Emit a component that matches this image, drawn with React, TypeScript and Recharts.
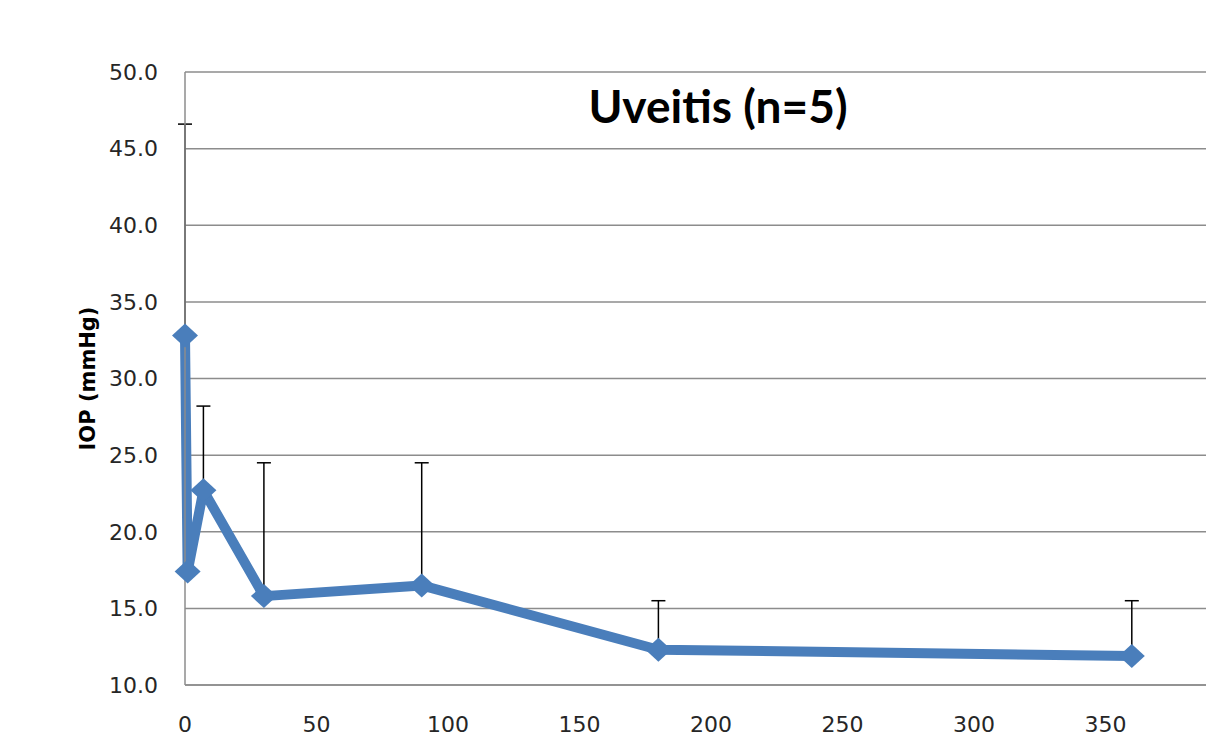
import React from 'react';
import { LineChart, Line, XAxis, YAxis, CartesianGrid, ErrorBar } from 'recharts';

// follow-up time (days) and mean IOP with upper SD
const days = [0, 1, 7, 30, 90, 180, 360];
const iop = [32.8, 17.4, 22.7, 15.8, 16.5, 12.3, 11.9];
const sdUp = [13.8, 0, 5.5, 8.7, 8.0, 3.2, 3.6];

const xTicks = [0, 50, 100, 150, 200, 250, 300, 350];
const yTicks = [10, 15, 20, 25, 30, 35, 40, 45, 50];

const data = days.map((d, i) => ({ day: d, iop: iop[i], err: [0, sdUp[i]] }));

const BLUE = '#4a7ebb';
const GRID = '#8c8c8c';
const tickFont = { fontFamily: 'DejaVu Sans', fontSize: 22, fill: '#262626' };

const Diamond = (props: any) => {
  const { cx, cy, index } = props;
  if (cx == null || cy == null) return <g key={index} />;
  return (
    <polygon
      key={index}
      points={`${cx},${cy - 12} ${cx + 13},${cy} ${cx},${cy + 12} ${cx - 13},${cy}`}
      fill={BLUE}
    />
  );
};

export default function App() {
  return (
    <div
      style={{
        position: 'fixed',
        left: 0,
        top: 0,
        width: 1206,
        height: 754,
        overflow: 'hidden',
        background: '#fff',
      }}
    >
      <LineChart width={1300} height={754} data={data} margin={{ top: 72, right: 63, left: 0, bottom: 0 }}>
        <CartesianGrid vertical={false} stroke={GRID} strokeWidth={1.5} />
        <XAxis
          dataKey="day"
          type="number"
          domain={[0, 400]}
          ticks={xTicks}
          height={69}
          tickLine={false}
          tickMargin={25}
          axisLine={{ stroke: GRID, strokeWidth: 1.5 }}
          tick={tickFont}
        />
        <YAxis
          type="number"
          domain={[10, 50]}
          ticks={yTicks}
          width={185}
          tickLine={false}
          tickMargin={21}
          tickFormatter={(v: number) => v.toFixed(1)}
          axisLine={{ stroke: GRID, strokeWidth: 1.5 }}
          tick={tickFont}
          label={{
            value: 'IOP (mmHg)',
            angle: -90,
            position: 'center',
            dx: -5,
            style: { fontFamily: 'DejaVu Sans', fontWeight: 'bold', fontSize: 21, fill: '#000' },
          }}
        />
        <Line
          dataKey="iop"
          stroke={BLUE}
          strokeWidth={10}
          strokeLinejoin="round"
          dot={Diamond}
          activeDot={false}
          isAnimationActive={false}
        >
          <ErrorBar dataKey="err" direction="y" width={7} stroke="#000" strokeWidth={1.5} />
        </Line>
      </LineChart>
      <div
        style={{
          position: 'absolute',
          left: 518,
          width: 400,
          top: 78,
          textAlign: 'center',
          fontFamily: 'Lato',
          fontWeight: 'bold',
          fontSize: 46,
          lineHeight: '56px',
          color: '#000',
        }}
      >
        Uveitis (n=5)
      </div>
    </div>
  );
}
